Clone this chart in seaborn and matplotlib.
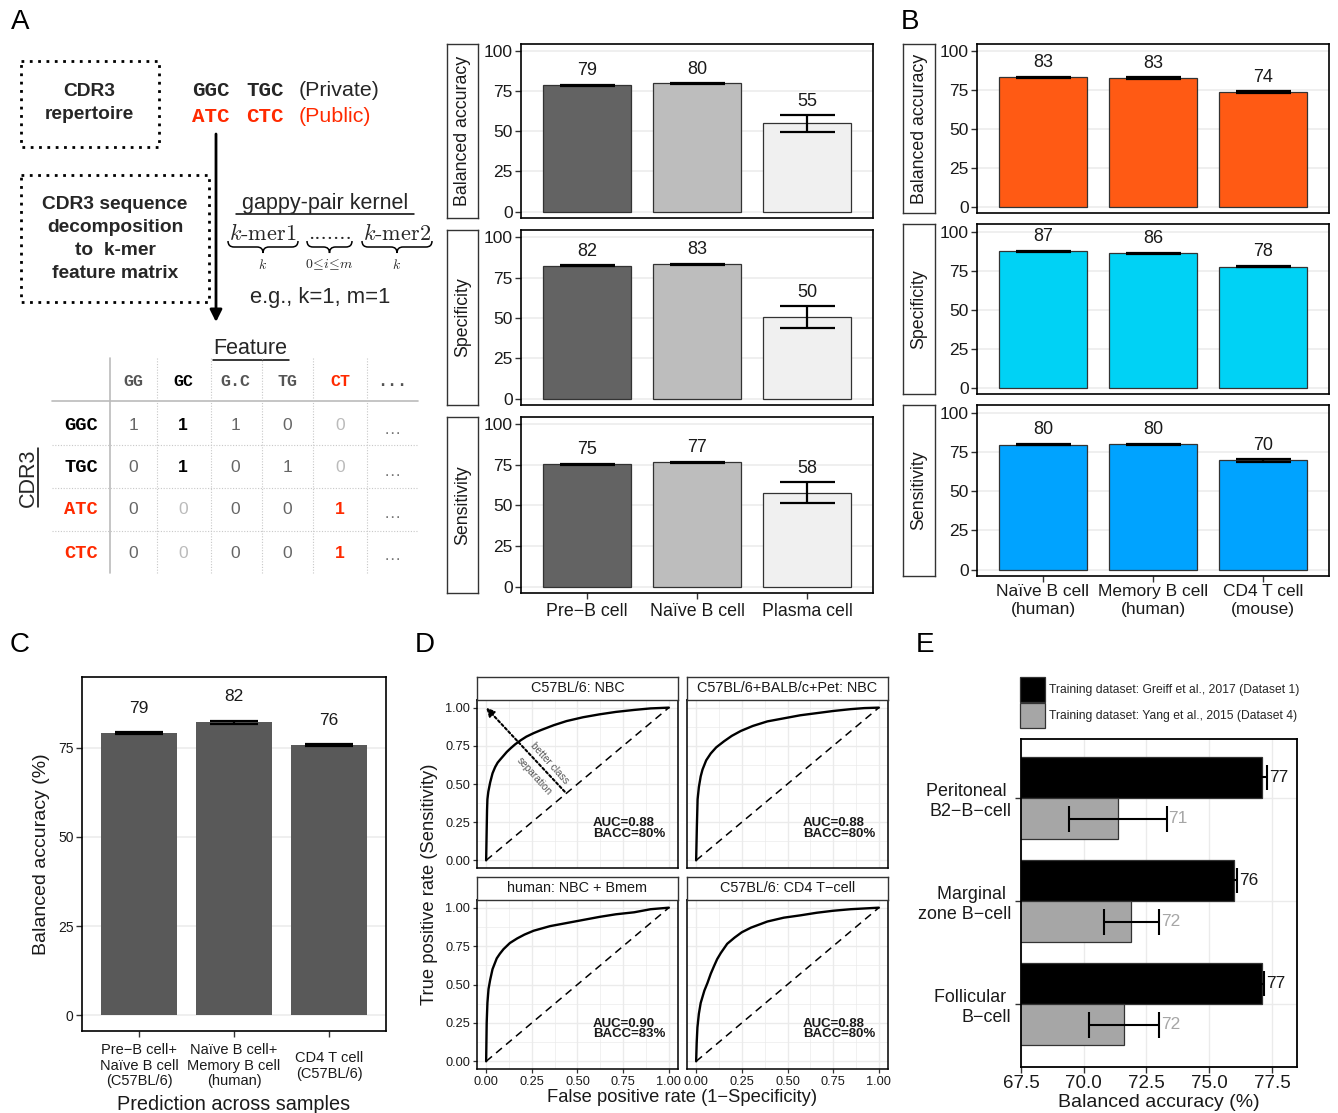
import numpy as np
import pandas as pd
import matplotlib
matplotlib.use("Agg")
import matplotlib.pyplot as plt
import seaborn as sns
from matplotlib.path import Path
from matplotlib.patches import PathPatch, Rectangle, Patch

# ---------------- data ----------------
# Panel A: diagram / feature matrix
kmer_features = ["GG", "GC", "G.C", "TG", "CT", "..."]
feature_styles = ["g", "b", "g", "g", "r", "g"]
cdr3_seqs = ["GGC", "TGC", "ATC", "CTC"]
cdr3_styles = ["b", "b", "r", "r"]
feature_matrix = [["1", "1", "1", "0", "0", "…"],
                  ["0", "1", "0", "1", "0", "…"],
                  ["0", "0", "0", "0", "1", "…"],
                  ["0", "0", "0", "0", "1", "…"]]
matrix_styles = [["n", "b", "n", "n", "l", "d"],
                 ["n", "b", "n", "n", "l", "d"],
                 ["n", "l", "n", "n", "r", "d"],
                 ["n", "l", "n", "n", "r", "d"]]

# Panel A: bar charts
metrics = ["Balanced accuracy", "Specificity", "Sensitivity"]
a_cells = ["Pre\u2212B cell", "Naïve B cell", "Plasma cell"]
a_bacc = [78.7, 79.9, 55.0]
a_bacc_sd = [0.3, 0.2, 5.1]
a_spec = [82.2, 83.3, 50.4]
a_spec_sd = [0.3, 0.2, 6.8]
a_sens = [75.4, 76.6, 57.8]
a_sens_sd = [0.3, 0.2, 6.4]

# Panel B
b_cells = ["Naïve B cell\n(human)", "Memory B cell\n(human)", "CD4 T cell\n(mouse)"]
b_bacc = [83.4, 82.8, 73.8]
b_bacc_sd = [0.2, 0.5, 0.6]
b_spec = [87.3, 86.0, 77.6]
b_spec_sd = [0.5, 0.5, 0.5]
b_sens = [79.6, 79.9, 69.6]
b_sens_sd = [0.5, 0.3, 0.8]

# Panel C
c_cells = ["Pre\u2212B cell+\nNaïve B cell\n(C57BL/6)",
           "Naïve B cell+\nMemory B cell\n(human)",
           "CD4 T cell\n(C57BL/6)"]
c_bacc = [79.0, 82.1, 75.8]
c_bacc_sd = [0.3, 0.5, 0.3]

# Panel D: ROC curves
roc_titles = ["C57BL/6: NBC", "C57BL/6+BALB/c+Pet: NBC",
              "human: NBC + Bmem", "C57BL/6: CD4 T\u2212cell"]
roc1_fpr = [0, 0.003, 0.005, 0.007, 0.012, 0.022, 0.035, 0.049, 0.063, 0.077, 0.095, 0.113,
            0.135, 0.159, 0.19, 0.22, 0.26, 0.30, 0.37, 0.44, 0.53, 0.62, 0.71, 0.81, 0.9, 1.0]
roc1_tpr = [0, 0.20, 0.33, 0.40, 0.45, 0.51, 0.57, 0.61, 0.64, 0.66, 0.685, 0.71,
            0.735, 0.76, 0.787, 0.81, 0.833, 0.853, 0.885, 0.912, 0.937, 0.956, 0.972, 0.985, 0.995, 1.0]
roc2_fpr = [0, 0.004, 0.008, 0.015, 0.025, 0.035, 0.055, 0.08, 0.11, 0.153, 0.195, 0.244,
            0.31, 0.39, 0.48, 0.57, 0.66, 0.75, 0.845, 0.92, 1.0]
roc2_tpr = [0, 0.22, 0.40, 0.48, 0.55, 0.595, 0.655, 0.70, 0.74, 0.78, 0.815, 0.847,
            0.88, 0.91, 0.93, 0.95, 0.964, 0.978, 0.99, 0.997, 1.0]
roc3_fpr = [0, 0.003, 0.007, 0.013, 0.022, 0.035, 0.058, 0.075, 0.095, 0.13, 0.17, 0.21,
            0.26, 0.35, 0.44, 0.53, 0.62, 0.71, 0.81, 0.9, 1.0]
roc3_tpr = [0, 0.25, 0.38, 0.47, 0.53, 0.60, 0.67, 0.70, 0.73, 0.77, 0.80, 0.825,
            0.85, 0.88, 0.90, 0.92, 0.94, 0.957, 0.97, 0.99, 1.0]
roc4_fpr = [0, 0.003, 0.007, 0.015, 0.025, 0.045, 0.062, 0.08, 0.098, 0.115, 0.135, 0.17,
            0.21, 0.25, 0.30, 0.39, 0.48, 0.57, 0.66, 0.75, 0.845, 1.0]
roc4_tpr = [0, 0.12, 0.22, 0.31, 0.38, 0.46, 0.51, 0.57, 0.62, 0.665, 0.705, 0.765,
            0.805, 0.84, 0.87, 0.91, 0.935, 0.95, 0.967, 0.98, 0.99, 1.0]
roc_auc = ["0.88", "0.88", "0.90", "0.88"]
roc_bacc = ["80%", "80%", "83%", "80%"]
chance_fpr = [0, 1]
chance_tpr = [0, 1]

# Panel E
e_cells = ["Peritoneal \nB2\u2212B\u2212cell", "Marginal \nzone B\u2212cell", "Follicular \nB\u2212cell"]
e_datasets = ["Training dataset: Greiff et al., 2017 (Dataset 1)",
              "Training dataset: Yang et al., 2015 (Dataset 4)"]
e_d1 = [77.1, 76.0, 77.1]
e_d1_sd = [0.2, 0.1, 0.1]
e_d4 = [71.35, 71.9, 71.6]
e_d4_sd = [1.95, 1.1, 1.4]

# ---------------- style ----------------
sns.set_theme(style="white")
plt.rcParams['font.family'] = ['Liberation Sans', 'DejaVu Sans']
plt.rcParams['mathtext.fontset'] = 'cm'

W, H = 1338, 1113
fig = plt.figure(figsize=(W / 100, H / 100), dpi=100)
fig.patch.set_facecolor("white")

RED = "#ff2a00"
GRID = "#ebebeb"
TXT = "#1a1a1a"


def add_ax(l, t, r, b):
    return fig.add_axes([l / W, 1 - b / H, (r - l) / W, (b - t) / H])


def style_frame(ax, lw=1.2, color="black"):
    for s in ax.spines.values():
        s.set_visible(True)
        s.set_color(color)
        s.set_linewidth(lw)


def strip_box(ax, label, rot=90, fs=12.8):
    ax.set_xticks([])
    ax.set_yticks([])
    style_frame(ax, lw=1.0, color="#333333")
    ax.set_facecolor("white")
    ax.text(0.5, 0.5, label, rotation=rot, ha="center", va="center",
            fontsize=fs, color=TXT, transform=ax.transAxes)


def bar_panel(ax, cats, means, sds, colors, ylim, show_x, edge="#333333",
              lw=0.9, yticks=(0, 25, 50, 75, 100), tick_fs=12.5, lab_fs=13,
              xtick_fs=12.8, lab_off=3.5, cap=0.25):
    means = np.asarray(means, float)
    sds = np.asarray(sds, float)
    df = pd.DataFrame({"cat": cats, "val": means})
    sns.barplot(data=df, x="cat", y="val", hue="cat", palette=colors,
                legend=False, width=0.8, edgecolor=edge, linewidth=lw,
                saturation=1, errorbar=None, ax=ax, zorder=2)
    x = np.arange(len(cats))
    lo, hi = means - sds, means + sds
    ax.vlines(x, lo, hi, color="black", lw=1.6, zorder=4)
    ax.hlines(hi, x - cap, x + cap, color="black", lw=1.6, zorder=4)
    ax.hlines(lo, x - cap, x + cap, color="black", lw=1.6, zorder=4)
    for xi, h, m in zip(x, hi, means):
        ax.text(xi, h + lab_off, f"{int(round(m))}", ha="center", va="bottom",
                fontsize=lab_fs, color=TXT, zorder=5)
    ax.set_xlim(-0.6, len(cats) - 0.4)
    ax.set_ylim(*ylim)
    ax.set_yticks(list(yticks))
    ax.yaxis.grid(True, color=GRID, lw=1.1)
    ax.xaxis.grid(False)
    ax.set_axisbelow(True)
    ax.set_xlabel("")
    ax.set_ylabel("")
    style_frame(ax)
    ax.tick_params(axis="y", left=True, length=4, width=1, color="#333333",
                   pad=2, labelsize=tick_fs, labelcolor=TXT)
    if show_x:
        ax.tick_params(axis="x", bottom=True, length=4, width=1, color="#333333",
                       pad=3, labelsize=xtick_fs, labelcolor=TXT)
    else:
        ax.tick_params(axis="x", bottom=False, labelbottom=False)


# ---------------- Panel A bars ----------------
a_colors = ["#636363", "#bdbdbd", "#f0f0f0"]
a_rows = [(a_bacc, a_bacc_sd, 44, 218), (a_spec, a_spec_sd, 230, 405),
          (a_sens, a_sens_sd, 417, 593)]
for i, (m, s, t, b) in enumerate(a_rows):
    ax = add_ax(521, t, 873, b)
    bar_panel(ax, a_cells, m, s, a_colors, (-4, 104.5), show_x=(i == 2))
    strip_box(add_ax(447, t, 478, b), metrics[i])

# ---------------- Panel B bars ----------------
b_colors = ["#ff5a14", "#00d2f5", "#00a3ff"]
b_rows = [(b_bacc, b_bacc_sd, 44, 213), (b_spec, b_spec_sd, 224, 394),
          (b_sens, b_sens_sd, 405, 576)]
for i, (m, s, t, b) in enumerate(b_rows):
    ax = add_ax(977, t, 1329, b)
    bar_panel(ax, b_cells, m, s, [b_colors[i]] * 3, (-4, 104.8), show_x=(i == 2))
    if i == 2:
        ax.tick_params(axis="x", pad=2, labelsize=12.5)
    strip_box(add_ax(903, t, 935, b), metrics[i])

# ---------------- Panel C ----------------
axc = add_ax(82, 677, 386, 1031)
bar_panel(axc, c_cells, c_bacc, c_bacc_sd, ["#595959"] * 3, (-4.4, 94.8), True,
          edge="none", lw=0, yticks=(0, 25, 50, 75), tick_fs=10, lab_fs=12.5,
          xtick_fs=10.5, lab_off=4.5)
axc.tick_params(axis="x", pad=21)
for lab in axc.get_xticklabels():
    lab.set_va("center")
    lab.set_linespacing(1.15)
axc.set_ylabel("Balanced accuracy (%)", fontsize=14, color=TXT, labelpad=6)
axc.set_xlabel("Prediction across samples", fontsize=14.3, color=TXT, labelpad=5)

# ---------------- Panel D ----------------
roc_sets = [(roc1_fpr, roc1_tpr), (roc2_fpr, roc2_tpr),
            (roc3_fpr, roc3_tpr), (roc4_fpr, roc4_tpr)]
d_boxes = [(477, 700, 678, 868), (687, 700, 888, 868),
           (477, 900, 678, 1069), (687, 900, 888, 1069)]
ticks = [0, 0.25, 0.5, 0.75, 1.0]
for k, ((fpr, tpr), (l, t, r, b)) in enumerate(zip(roc_sets, d_boxes)):
    ax = add_ax(l, t, r, b)
    ax.plot(chance_fpr, chance_tpr, ls=(0, (5, 3.5)), color="black", lw=1.1, zorder=3)
    sns.lineplot(x=fpr, y=tpr, ax=ax, color="black", lw=1.7, sort=False,
                 estimator=None, zorder=4)
    ax.set_xlim(-0.05, 1.05)
    ax.set_ylim(-0.05, 1.05)
    ax.set_xticks(ticks)
    ax.set_yticks(ticks)
    ax.set_xticks([0.125, 0.375, 0.625, 0.875], minor=True)
    ax.set_yticks([0.125, 0.375, 0.625, 0.875], minor=True)
    ax.grid(which="major", color=GRID, lw=1.0)
    ax.grid(which="minor", color=GRID, lw=0.5)
    ax.set_axisbelow(True)
    style_frame(ax, lw=1.1)
    ax.set_xticklabels([f"{v:.2f}" for v in ticks])
    ax.set_yticklabels([f"{v:.2f}" for v in ticks])
    ax.tick_params(which="minor", length=0)
    ax.tick_params(axis="both", which="major", length=3, width=0.9, color="#333333",
                   labelsize=9.2, labelcolor=TXT, pad=2)
    if k % 2 == 1:
        ax.tick_params(axis="y", left=False, labelleft=False)
    else:
        ax.tick_params(axis="y", left=True)
    if k < 2:
        ax.tick_params(axis="x", bottom=False, labelbottom=False)
    else:
        ax.tick_params(axis="x", bottom=True)
    ax.text(0.585, 0.21, f"AUC={roc_auc[k]}\nBACC={roc_bacc[k]}", fontsize=9.5,
            fontweight="bold", ha="left", va="center", linespacing=0.85, color=TXT)
    if k == 0:
        ax.annotate("", xy=(0.0, 1.0), xytext=(0.43, 0.45),
                    arrowprops=dict(arrowstyle="-|>", ls=(0, (1.2, 1.2)), lw=1.5,
                                    color="black", mutation_scale=12,
                                    shrinkA=0, shrinkB=0))
        ax.text(0.345, 0.635, "better class", rotation=-48, fontsize=7.3,
                color="#555555", ha="center", va="center", rotation_mode="anchor")
        ax.text(0.262, 0.548, "separation", rotation=-48, fontsize=7.3,
                color="#555555", ha="center", va="center", rotation_mode="anchor")
    sl, st, sr, sb = l, t - 23, r, t
    strip_box(add_ax(sl, st, sr, sb), roc_titles[k], rot=0, fs=10.4)

# ---------------- Panel E ----------------
axe = add_ax(1021, 739, 1297, 1067)
e_df = pd.DataFrame({
    "cell": e_cells * 2,
    "dataset": [e_datasets[0]] * 3 + [e_datasets[1]] * 3,
    "val": e_d1 + e_d4,
})
sns.barplot(data=e_df, y="cell", x="val", hue="dataset", orient="h",
            palette=["#000000", "#a6a6a6"], edgecolor="#333333", linewidth=0.9,
            width=0.8, saturation=1, errorbar=None, legend=False, ax=axe, zorder=2)
for h, (means, sds, col) in enumerate([(e_d1, e_d1_sd, TXT), (e_d4, e_d4_sd, "#a6a6a6")]):
    means = np.asarray(means)
    sds = np.asarray(sds)
    yy = np.arange(3) + (h - 0.5) * 0.4
    lo, hi = means - sds, means + sds
    axe.hlines(yy, lo, hi, color="black", lw=1.5, zorder=4)
    axe.vlines(lo, yy - 0.125, yy + 0.125, color="black", lw=1.5, zorder=4)
    axe.vlines(hi, yy - 0.125, yy + 0.125, color="black", lw=1.5, zorder=4)
    for y0, x0, m in zip(yy, hi, means):
        axe.text(x0 + 0.08, y0, f"{int(round(m))}", ha="left", va="center",
                 fontsize=12.5, color=col, zorder=5)
axe.set_xlim(67.5, 78.5)
axe.set_ylim(2.61, -0.573)
e_ticks = [67.5, 70.0, 72.5, 75.0, 77.5]
axe.set_xticks(e_ticks)
axe.set_xticklabels([f"{v:.1f}" for v in e_ticks])
axe.grid(True, color=GRID, lw=1.0)
axe.set_axisbelow(True)
style_frame(axe, lw=1.3)
axe.tick_params(axis="x", bottom=True, length=4, width=1, color="#333333",
                labelsize=13.5, labelcolor=TXT, pad=2)
axe.tick_params(axis="y", left=True, length=4, width=1, color="#333333",
                labelsize=12.9, labelcolor=TXT, pad=3)
axe.set_xlabel("Balanced accuracy (%)", fontsize=14, color=TXT, labelpad=1)
axe.set_ylabel("")
handles = [Patch(facecolor="#000000", edgecolor="#333333", lw=0.9),
           Patch(facecolor="#a6a6a6", edgecolor="#333333", lw=0.9)]
fig.legend(handles, e_datasets, loc="upper left",
           bbox_to_anchor=(1020 / W, 1 - 677 / H), bbox_transform=fig.transFigure,
           frameon=False, fontsize=8.7, handlelength=2.07, handleheight=2.8,
           labelspacing=0.05, handletextpad=0.35, borderpad=0, borderaxespad=0)

# ---------------- overlay: diagram + panel letters + D titles ----------------
ov = fig.add_axes([0, 0, 1, 1], zorder=10)
ov.set_xlim(0, W)
ov.set_ylim(H, 0)
ov.axis("off")
ov.patch.set_visible(False)

for letter, (lx, ly) in zip("ABCDE", [(20, 22), (910, 22), (20, 645), (425, 645), (925, 645)]):
    ov.text(lx, ly, letter, fontsize=20, ha="center", va="center", color="black")

ov.text(682, 1098, "False positive rate (1\u2212Specificity)", fontsize=13.2,
        ha="center", va="center", color=TXT)
ov.text(430, 884, "True positive rate (Sensitivity)", fontsize=13.2,
        ha="center", va="center", rotation=90, color=TXT)

# dotted boxes
ov.add_patch(Rectangle((21, 61), 138, 86, fill=False, ls=(0, (1, 2)), lw=2, ec="black"))
ov.add_patch(Rectangle((21, 175), 188, 127, fill=False, ls=(0, (1, 2)), lw=2, ec="black"))
ov.text(89, 103, "CDR3\nrepertoire", fontsize=13.8, fontweight="bold", ha="center",
        va="center", linespacing=1.5)
ov.text(115, 239, "CDR3 sequence\ndecomposition\nto  k-mer\nfeature matrix",
        fontsize=13.8, fontweight="bold", ha="center", va="center", linespacing=1.48)

MONO = "Liberation Mono"
ov.text(192, 91, "GGC", family=MONO, fontweight="bold", fontsize=15, va="center")
ov.text(246, 91, "TGC", family=MONO, fontweight="bold", fontsize=15, va="center")
ov.text(299, 90, "(Private)", fontsize=15.4, va="center")
ov.text(192, 117, "ATC", family=MONO, fontweight="bold", fontsize=15, va="center", color=RED)
ov.text(246, 117, "CTC", family=MONO, fontweight="bold", fontsize=15, va="center", color=RED)
ov.text(299, 116, "(Public)", fontsize=15.4, va="center", color=RED)

# arrow
ov.annotate("", xy=(216, 322), xytext=(216, 134),
            arrowprops=dict(arrowstyle="-|>", lw=2, color="black", mutation_scale=18,
                            shrinkA=0, shrinkB=0))

# gappy-pair kernel
ov.text(325, 204, "gappy-pair kernel", fontsize=15.5, ha="center", va="center")
ov.plot([236, 414], [214, 214], color="black", lw=1.1)


def brace(x0, x1, y, h):
    xm = (x0 + x1) / 2
    q = h / 2
    verts = [(x0, y), (x0, y + q), (x0 + q, y + q), (xm - q, y + q),
             (xm, y + q), (xm, y + 2 * q), (xm, y + q), (xm + q, y + q),
             (x1 - q, y + q), (x1, y + q), (x1, y)]
    codes = [Path.MOVETO, Path.CURVE3, Path.CURVE3, Path.LINETO,
             Path.CURVE3, Path.CURVE3, Path.CURVE3, Path.CURVE3,
             Path.LINETO, Path.CURVE3, Path.CURVE3]
    ov.add_patch(PathPatch(Path(verts, codes), fill=False, lw=1.1, ec="black"))


for (x0, x1, top, sub) in [(228, 298, "$k$-mer1", "$k$"),
                           (307, 352, ".......", r"$0\!\leq\! i\!\leq\! m$"),
                           (362, 432, "$k$-mer2", "$k$")]:
    xm = (x0 + x1) / 2
    ov.text(xm, 233, top, family="cmr10", fontsize=16, ha="center", va="center")
    brace(x0, x1, 241, 12)
    ov.text(xm, 265, sub, fontsize=10, ha="center", va="center")

ov.text(320, 297, "e.g., k=1, m=1", fontsize=15.8, ha="center", va="center")

# feature table
ov.text(250, 348, "Feature", fontsize=15.5, ha="center", va="center")
ov.plot([213, 289], [360, 360], color="black", lw=1.1)
ov.text(28, 478, "CDR3", fontsize=15.5, ha="center", va="center", rotation=90)
ov.plot([38, 38], [448, 507], color="black", lw=1.1)

col_x = [133, 183, 235, 287, 340, 392]
row_y = [426, 468, 510, 553]
ov.plot([52, 418], [401, 401], color="#bbbbbb", lw=1.2)
ov.plot([110, 110], [358, 573], color="#bbbbbb", lw=1.2)
for xs in [157, 211, 262, 313, 367]:
    ov.plot([xs, xs], [358, 573], color="#c8c8c8", lw=0.8, ls=(0, (1, 1.5)))
for ys in [445, 488, 531]:
    ov.plot([52, 418], [ys, ys], color="#c8c8c8", lw=0.8, ls=(0, (1, 1.5)))

hdr_col = {"g": "#555555", "b": "black", "r": RED}
for x0, f, st in zip(col_x, kmer_features, feature_styles):
    ov.text(x0, 382, f, family=MONO, fontweight="bold", fontsize=12, ha="center",
            va="center", color=hdr_col[st])
for y0, s, st in zip(row_y, cdr3_seqs, cdr3_styles):
    ov.text(81, y0, s, family=MONO, fontweight="bold", fontsize=13.5, ha="center",
            va="center", color=hdr_col[st])
cell_style = {"n": ("#666666", "normal"), "b": ("black", "bold"),
              "l": ("#bbbbbb", "normal"), "r": (RED, "bold"), "d": ("#777777", "normal")}
for y0, row, srow in zip(row_y, feature_matrix, matrix_styles):
    for x0, v, st in zip(col_x, row, srow):
        c, wgt = cell_style[st]
        ov.text(x0, y0 + (3 if st == "d" else 0), v, fontsize=12.5, ha="center",
                va="center", color=c, fontweight=wgt)

fig.savefig("out.png", dpi=100, facecolor="white")
